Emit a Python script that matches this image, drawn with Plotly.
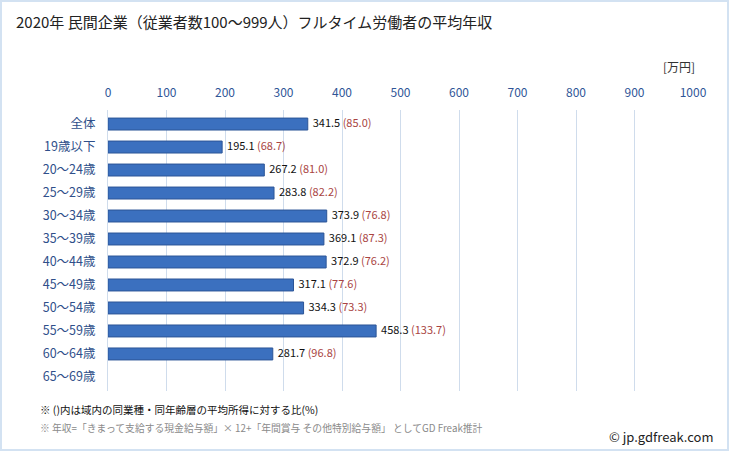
import plotly.graph_objects as go

categories = ["全体", "19歳以下", "20～24歳", "25～29歳", "30～34歳", "35～39歳",
              "40～44歳", "45～49歳", "50～54歳", "55～59歳", "60～64歳", "65～69歳"]
salary = [341.5, 195.1, 267.2, 283.8, 373.9, 369.1, 372.9, 317.1, 334.3, 458.3, 281.7, None]
ratio = [85.0, 68.7, 81.0, 82.2, 76.8, 87.3, 76.2, 77.6, 73.3, 133.7, 96.8, None]
x_ticks = [0, 100, 200, 300, 400, 500, 600, 700, 800, 900, 1000]

FONT = "Noto Sans CJK JP"

W, H = 729, 451
L, R, T, B = 108, 36, 110, 60
PW, PH = W - L - R, H - T - B


def px(x):
    return (x - L) / PW


def py(y):
    return (H - B - y) / PH


labels = []
for s, r in zip(salary, ratio):
    if s is None:
        labels.append("")
    else:
        labels.append(f"\u00a0\u00a0{s:.1f} <span style='color:#a94442'>({r:.1f})</span>")

fig = go.Figure()
fig.add_trace(go.Bar(
    y=categories, x=salary, orientation="h",
    marker=dict(color="#3b70bf", line=dict(color="#2c5597", width=1)),
    width=0.52, hoverinfo="skip",
))
fig.add_trace(go.Scatter(
    y=categories, x=[s if s is not None else 0 for s in salary],
    mode="text", text=labels, textposition="middle right",
    textfont=dict(family=FONT, size=11, color="#111111"),
    hoverinfo="skip", cliponaxis=False,
))

fig.update_layout(
    width=W, height=H,
    margin=dict(l=L, r=R, t=T, b=B),
    paper_bgcolor="white", plot_bgcolor="white",
    showlegend=False,
    xaxis=dict(range=[0, 1000], side="top", tickvals=x_ticks,
               tickfont=dict(family=FONT, size=12, color="#2f5597"),
               ticklabelstandoff=10,
               showgrid=True, gridcolor="#cfdcec", gridwidth=1,
               zeroline=False, showline=False, ticks="", fixedrange=True),
    yaxis=dict(autorange="reversed", tickfont=dict(family=FONT, size=12.5, color="#2f4f8a"),
               ticks="", showgrid=False, zeroline=False, ticklabelstandoff=9,
               showline=True, linecolor="#cfdcec", fixedrange=True),
    shapes=[dict(type="rect", xref="paper", yref="paper", x0=px(1), x1=px(W - 1),
                 y0=py(H - 1), y1=py(1), line=dict(color="#d3e2f2", width=2))],
    annotations=[
        dict(text="2020年 民間企業（従業者数100～999人）フルタイム労働者の平均年収",
             xref="paper", yref="paper", x=px(14), y=py(22),
             xanchor="left", yanchor="middle", showarrow=False,
             font=dict(family=FONT, size=15, color="#222222")),
        dict(text="[万円]", xref="paper", yref="paper", x=px(697), y=py(66),
             xanchor="right", yanchor="middle", showarrow=False,
             font=dict(family=FONT, size=12, color="#333333")),
        dict(text="※ ()内は域内の同業種・同年齢層の平均所得に対する比(%)",
             xref="paper", yref="paper", x=px(38), y=py(409),
             xanchor="left", yanchor="middle", showarrow=False,
             font=dict(family=FONT, size=10.5, color="#111111")),
        dict(text="※ 年収=「きまって支給する現金給与額」× 12+「年間賞与 その他特別給与額」 としてGD Freak推計",
             xref="paper", yref="paper", x=px(38), y=py(428),
             xanchor="left", yanchor="middle", showarrow=False,
             font=dict(family=FONT, size=9.8, color="#8a8a8a")),
        dict(text="© jp.gdfreak.com",
             xref="paper", yref="paper", x=px(716), y=py(436),
             xanchor="right", yanchor="middle", showarrow=False,
             font=dict(family=FONT, size=13, color="#222222")),
    ],
)

fig.write_html("out.html", config={"displayModeBar": False},
               post_script="document.body.style.margin='0';document.body.style.overflow='hidden';")
